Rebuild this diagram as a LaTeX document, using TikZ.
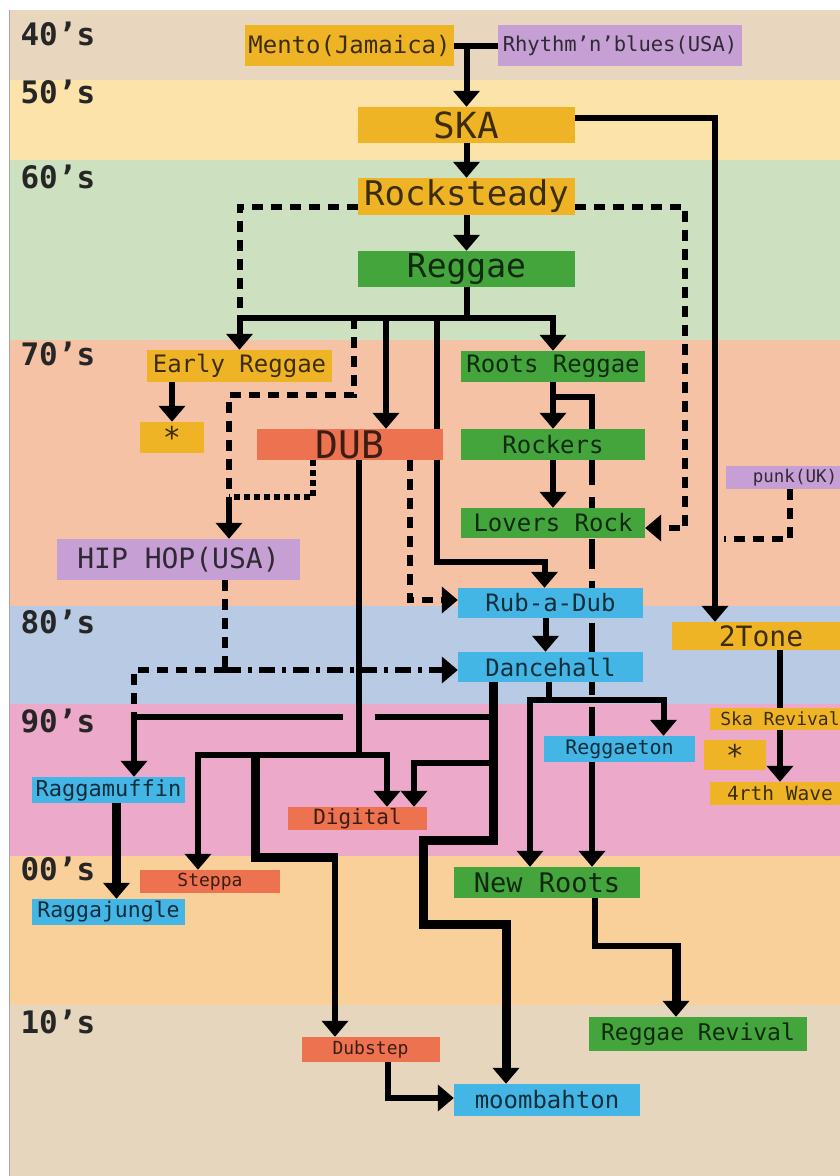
\documentclass[tikz,border=0pt]{standalone}
\usepackage{fontspec}
\setmonofont{DejaVu Sans Mono}
\usetikzlibrary{arrows.meta}

\definecolor{cOrange}{HTML}{EFB425}
\definecolor{cPurple}{HTML}{C6A0D4}
\definecolor{cGreen}{HTML}{43A53B}
\definecolor{cRed}{HTML}{EC7250}
\definecolor{cBlue}{HTML}{43B6E6}
\definecolor{b40}{HTML}{E9D6BE}
\definecolor{b50}{HTML}{FBE3AA}
\definecolor{b60}{HTML}{CDE0BF}
\definecolor{b70}{HTML}{F6C2A6}
\definecolor{b80}{HTML}{B8CAE4}
\definecolor{b90}{HTML}{EDA9C9}
\definecolor{b00}{HTML}{F9D099}
\definecolor{b10}{HTML}{E7D6BE}

\newcommand\fs[1]{\ttfamily\fontsize{#1}{#1}\selectfont}
\newcommand\decfont{\ttfamily\bfseries\fontsize{31}{31}\selectfont}

\pgfdeclarelayer{bg}
\pgfdeclarelayer{wires}
\pgfsetlayers{bg,wires,main}

\tikzset{
  genre/.style n args={3}{fill=#1, text=#1!25!black, minimum width=#2,
    minimum height=#3, inner sep=0pt},
  con/.style={line width=6pt},
  heavy/.style={line width=9pt},
  arr/.style={-{Triangle[width=26pt,length=16pt]}},
  dashline/.style={line width=6pt, dash pattern=on 11pt off 8pt},
  dotline/.style={line width=6pt, dash pattern=on 6pt off 4pt},
  longline/.style={line width=6pt, dash pattern=on 30pt off 12pt},
  hhline/.style={line width=6pt, dash pattern=on 16pt off 7pt on 4pt off 7pt}
}

\begin{document}
\begin{tikzpicture}[x=1pt,y=-1pt]
\useasboundingbox (0,0) rectangle (840,1176);

% decade bands
\begin{pgfonlayer}{bg}
\fill[white] (0,0) rectangle (840,1176);
\foreach \c/\ya/\yb in {b40/10/80, b50/80/160, b60/160/340, b70/340/606,
    b80/606/704, b90/704/856, b00/856/1005, b10/1005/1176}
  \fill[\c] (10,\ya) rectangle (840,\yb);
\draw[gray!70, line width=1.5pt] (9.5,10) -- (9.5,1176);
\end{pgfonlayer}

\foreach \d/\y in {40/45, 50/103, 60/188, 70/365, 80/633, 90/732, 00/880, 10/1033}
  \node[anchor=base west, font=\decfont, text=black!85] (dec\d) at (17,\y) {\d’s};

% genres
\node[genre={cOrange}{209pt}{41pt}, font=\fs{24}] (mento) at (349.5,45.5) {Mento(Jamaica)};
\node[genre={cPurple}{244pt}{41pt}, font=\fs{20.5}] (rnb) at (620,45.5) {Rhythm’n’blues(USA)};
\node[genre={cOrange}{217pt}{36pt}, font=\fs{36}] (ska) at (466.5,125) {SKA};
\node[genre={cOrange}{217pt}{37pt}, font=\fs{34}] (rock) at (466.5,196.5) {Rocksteady};
\node[genre={cGreen}{217pt}{36pt}, font=\fs{33}] (reggae) at (466.5,269) {Reggae};
\node[genre={cOrange}{185pt}{32pt}, font=\fs{24}] (early) at (239.5,366) {Early Reggae};
\node[genre={cOrange}{64pt}{31pt}, font=\fs{30}] (star1) at (172,437.5) {*};
\node[genre={cGreen}{184pt}{31pt}, font=\fs{24}] (roots) at (553,366.5) {Roots Reggae};
\node[genre={cRed}{186pt}{31pt}, font=\fs{38}] (dub) at (350,444.5) {DUB};
\node[genre={cGreen}{184pt}{31pt}, font=\fs{24}] (rockers) at (553,444.5) {Rockers};
\node[genre={cGreen}{184pt}{30pt}, font=\fs{24}] (lovers) at (553,523) {Lovers Rock};
\node[genre={cPurple}{138pt}{23pt}, font=\fs{17.5}] (punk) at (795,477.5) {punk(UK)};
\node[genre={cPurple}{243pt}{41pt}, font=\fs{28}] (hiphop) at (178.5,559.5) {HIP HOP(USA)};
\node[genre={cBlue}{185pt}{30pt}, font=\fs{24}] (rubadub) at (550.5,603) {Rub-a-Dub};
\node[genre={cBlue}{185pt}{30pt}, font=\fs{24}] (dancehall) at (550.5,667) {Dancehall};
\node[genre={cOrange}{178pt}{28pt}, font=\fs{28}] (twotone) at (761,636) {2Tone};
\node[genre={cOrange}{140pt}{22pt}, font=\fs{18}] (skarev) at (780,719) {Ska Revival};
\node[genre={cOrange}{62pt}{30pt}, font=\fs{30}] (star2) at (735,755) {*};
\node[genre={cOrange}{140pt}{23pt}, font=\fs{19.5}] (fourth) at (780,793.5) {4rth Wave};
\node[genre={cBlue}{151pt}{26pt}, font=\fs{20}] (reggaeton) at (619.5,749) {Reggaeton};
\node[genre={cBlue}{153pt}{26pt}, font=\fs{22}] (ragga) at (108.5,790) {Raggamuffin};
\node[genre={cBlue}{153pt}{26pt}, font=\fs{21.5}] (raggajungle) at (108.5,912) {Raggajungle};
\node[genre={cRed}{139pt}{23pt}, font=\fs{21}] (digital) at (357.5,818.5) {Digital};
\node[genre={cRed}{140pt}{23pt}, font=\fs{18}] (steppa) at (210,881.5) {Steppa};
\node[genre={cGreen}{186pt}{31pt}, font=\fs{27}] (newroots) at (547,882.5) {New Roots};
\node[genre={cGreen}{218pt}{34pt}, font=\fs{23}] (revival) at (698,1034) {Reggae Revival};
\node[genre={cRed}{138pt}{25pt}, font=\fs{18}] (dubstep) at (370.5,1049.5) {Dubstep};
\node[genre={cBlue}{186pt}{32pt}, font=\fs{24}] (moomba) at (547,1100) {moombahton};

% connectors, behind the boxes
\begin{pgfonlayer}{wires}
\coordinate (bus) at (466.5,318);
\coordinate (rdturn) at (437,562);
\coordinate (hhjoin) at (229,497);
\coordinate (rj) at (592,397);
\coordinate (punkend) at (724,539);
\coordinate (dubbar) at (359,755);
\coordinate (dsfork) at (255,755);
\coordinate (dskink) at (255,857);
\coordinate (dsdrop) at (335,857);
\coordinate (hhT) at (225,670);
\coordinate (rgL) at (134,717);
\coordinate (rgR) at (493,717);
\coordinate (gapR) at (375,717);
\coordinate (gapL) at (343,717);
\coordinate (dgR) at (493,763);
\coordinate (dh1) at (493,840);
\coordinate (dh2) at (423,840);
\coordinate (dh3) at (423,924);
\coordinate (dhfork) at (549,700);
\coordinate (nrk) at (595,946);
\coordinate (nrdrop) at (676,946);

% 40s to 60s
\draw[con] (mento.east) -- (rnb.west);
\draw[con,arr] (mento.east -| ska.north) -- (ska.north);
\draw[con,arr] (ska.south) -- (rock.north);
\draw[con,arr] (rock.south) -- (reggae.north);
\draw[con,arr] ([yshift=7pt]ska.east) -| ([xshift=-46pt]twotone.north);
\draw[dashline] ([yshift=-10pt]rock.west) -| (bus -| early.north);
\draw[dashline,arr] ([yshift=-10pt]rock.east) -| ([xshift=40pt,yshift=-5pt]lovers.east)
  -- ([yshift=-5pt]lovers.east);

% reggae bus
\draw[con] (reggae.south) -- (bus);
\draw[con,arr] (bus) -| (early.north);
\draw[con,arr] (bus) -| (roots.north);
\coordinate (dubA) at ([xshift=36pt]dub.north);
\coordinate (dubB) at ([xshift=87pt]dub.north);
\coordinate (dubC) at ([xshift=4pt]dub.north);
\coordinate (dubD) at ([xshift=-37pt]dub.south);
\draw[con,arr] (bus -| dubA) -- (dubA);
\draw[con,arr] (bus -| dubB) -- (rdturn) -| ([xshift=-6pt]rubadub.north);
\draw[dashline] (bus -| dubC) -- ++(0,77) -| (hhjoin);
\draw[dotline] (dubD) |- (hhjoin);
\draw[con,arr] (hhjoin) -- (hhjoin |- hiphop.north);
\draw[con,arr] (early.south -| star1.north) -- (star1.north);

% roots family
\draw[con,arr] (roots.south) -- (rockers.north);
\draw[con,arr] (rockers.south) -- (lovers.north);
\draw[con] (roots.south |- rj) -- (rj) -- ++(0,16);
\draw[longline] (rj) ++(0,16) -- (rj |- reggaeton.north);
\draw[con,arr] (rj |- reggaeton.south) -- (rj |- newroots.north);
\draw[dashline] ([xshift=-5pt]punk.south) |- (punkend);

% dub
\draw[con] ([xshift=9pt]dub.south) -- (dubbar);
\draw[con,arr] (dubbar) -| ([xshift=29.5pt]digital.north);
\draw[con,arr] (dubbar) -| ([xshift=-12pt]steppa.north);
\draw[heavy] (dsfork) -- (dskink) -- ([xshift=3pt]dsdrop);
\draw[con,arr] (dsdrop) -- (dsdrop |- dubstep.north);
\draw[dashline,arr] ([xshift=60pt]dub.south) |- ([yshift=3pt]rubadub.west);
\draw[con,arr] ([xshift=-5pt]rubadub.south) -- ([xshift=-5pt]dancehall.north);

% hip hop
\draw[dashline] ([xshift=46.5pt]hiphop.south) -- (hhT);
\draw[hhline,arr] (hhT) -- (hhT -| dancehall.west);
\draw[dashline] (hhT) -| (rgL);

% dancehall
\draw[con] (rgR) -- (gapR);
\draw[con,arr] (gapL) -| ([xshift=25.5pt]ragga.north);
\draw[con,arr] (dgR) -| ([xshift=56.5pt]digital.north);
\draw[heavy,arr] ([xshift=-57.5pt]dancehall.south) -- (dh1) -- (dh2) -- (dh3)
  -| ([xshift=-41pt]moomba.north);
\draw[con] ([xshift=-1.5pt]dancehall.south) -- (dhfork);
\draw[con,arr] (dhfork) -| ([xshift=44pt]reggaeton.north);
\draw[con,arr] (dhfork) -| ([xshift=-17pt]newroots.north);

% later
\draw[con,arr] (twotone.south -| fourth.north) -- (fourth.north);
\draw[heavy,arr] ([xshift=8pt]ragga.south) -- ([xshift=8pt]raggajungle.north);
\draw[con] ([xshift=48pt]newroots.south) -- (nrk) -- ([xshift=4.5pt]nrdrop);
\draw[heavy,arr] ([yshift=3pt]nrdrop) -- (nrdrop |- revival.north);
\draw[con,arr] ([xshift=17.5pt]dubstep.south) |- ([yshift=2pt]moomba.west);
\end{pgfonlayer}
\end{tikzpicture}
\end{document}
